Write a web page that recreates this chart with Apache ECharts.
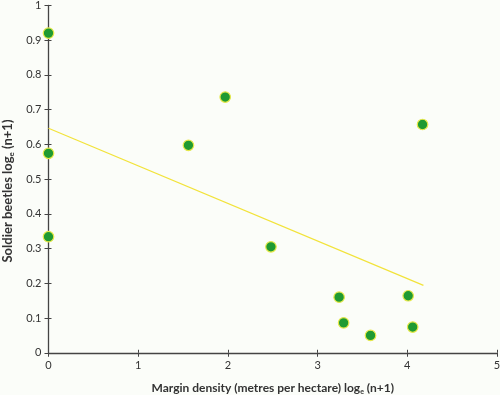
<!DOCTYPE html>
<html>
<head>
<meta charset="utf-8">
<script src="https://cdn.jsdelivr.net/npm/echarts@6/dist/echarts.min.js"></script>
<style>html,body{margin:0;padding:0;background:#fbfdf9}#c{width:500px;height:395px}</style>
</head>
<body>
<div id="c"></div>
<script>
const marginDensity = [0, 0, 0, 1.56, 1.97, 2.48, 3.24, 3.29, 3.59, 4.01, 4.06, 4.17];
const soldierBeetles = [0.92, 0.574, 0.334, 0.597, 0.736, 0.305, 0.160, 0.086, 0.050, 0.164, 0.074, 0.657];
const fitLineX = [0, 4.18];
const fitLineY = [0.646, 0.194];
const xTicks = [0, 1, 2, 3, 4, 5];
const yTicks = [0, 0.1, 0.2, 0.3, 0.4, 0.5, 0.6, 0.7, 0.8, 0.9, 1];

const chart = echarts.init(document.getElementById('c'));
const axisCol = '#444';
const font = 'Lato, "Open Sans", sans-serif';
const fmtY = v => (v === 0 ? '0' : v === 1 ? '1' : String(Math.round(v * 10) / 10));
chart.setOption({
  backgroundColor: '#fbfdf9',
  animation: false,
  grid: { left: 48.5, right: 3, top: 5.3, bottom: 42.25, containLabel: false, outerBoundsMode: 'none' },
  xAxis: [{
    type: 'value', min: 0, max: 5, interval: 1,
    axisLine: { show: true, onZero: false, lineStyle: { color: axisCol, width: 1.3 } },
    axisTick: { show: true, length: 4, lineStyle: { color: axisCol } },
    splitLine: { show: false },
    axisLabel: { color: '#333', fontFamily: font, fontSize: 11, margin: 7 },
    name: 'Margin density (metres per hectare) log{s|e} (n+1)',
    nameLocation: 'middle', nameGap: 29,
    nameTextStyle: { color: '#333', fontFamily: font, fontSize: 12, fontWeight: 'bold',
      rich: { s: { fontSize: 7, fontWeight: 'bold', verticalAlign: 'bottom', padding: [6, 0, 0, 0], fontFamily: font, color: '#333' } } }
  }, {
    type: 'value', min: 0, max: 5, interval: 1, position: 'bottom',
    axisLine: { show: false },
    axisTick: { show: true, inside: true, length: 3, lineStyle: { color: axisCol } },
    axisLabel: { show: false }, splitLine: { show: false }
  }],
  yAxis: [{
    type: 'value', min: 0, max: 1, interval: 0.1,
    axisLine: { show: true, onZero: false, lineStyle: { color: axisCol, width: 1.3 } },
    axisTick: { show: true, length: 4, lineStyle: { color: axisCol } },
    splitLine: { show: false },
    axisLabel: { color: '#333', fontFamily: font, fontSize: 11, margin: 7, formatter: fmtY },
    name: 'Soldier beetles log{s|e} (n+1)',
    nameLocation: 'middle', nameGap: 33, nameRotate: 90,
    nameTextStyle: { color: '#333', fontFamily: font, fontSize: 13, fontWeight: 'bold', padding: [0, 24, 0, 0],
      rich: { s: { fontSize: 8, fontWeight: 'bold', verticalAlign: 'bottom', padding: [7, 0, 0, 0], fontFamily: font, color: '#333' } } }
  }, {
    type: 'value', min: 0, max: 1, interval: 0.1, position: 'left',
    axisLine: { show: false },
    axisTick: { show: true, inside: true, length: 3, lineStyle: { color: axisCol } },
    axisLabel: { show: false }, splitLine: { show: false }
  }],
  series: [{
    type: 'line',
    data: fitLineX.map((x, i) => [x, fitLineY[i]]),
    showSymbol: false, symbol: 'none',
    lineStyle: { color: '#f2e33a', width: 1.2 },
    z: 2
  }, {
    type: 'scatter',
    data: marginDensity.map((x, i) => [x, soldierBeetles[i]]),
    symbolSize: 10.5,
    itemStyle: { color: '#1f9a32', borderColor: '#e6e84a', borderWidth: 1.2, opacity: 1 },
    z: 3
  }]
});
</script>
</body>
</html>
